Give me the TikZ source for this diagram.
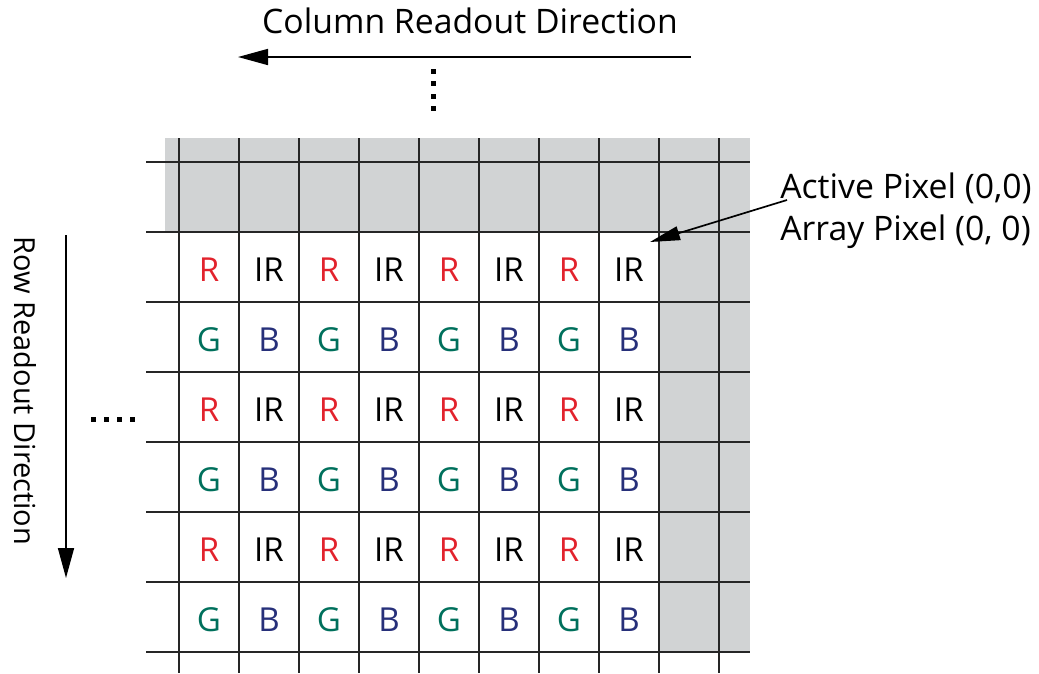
\documentclass[tikz,border=0pt]{standalone}
\usepackage{fontspec}
\setmainfont{Open Sans}
\usetikzlibrary{arrows.meta}
\definecolor{maskgray}{RGB}{209,211,212}
\definecolor{pixred}{RGB}{226,35,45}
\definecolor{pixgreen}{RGB}{0,112,92}
\definecolor{pixblue}{RGB}{39,48,122}
\begin{document}
\begin{tikzpicture}[x=0.025cm,y=-0.025cm,
    gridline/.style={line width=1.4pt,black!85},
    pix/.style={inner sep=0pt,font=\fontsize{23.5}{24}\selectfont},
    lbl/.style={inner sep=0pt,font=\fontsize{24}{26}\selectfont},
    readarrow/.style={line width=1.2pt,-{Triangle[length=0.75cm,width=0.4cm]}}]
  \useasboundingbox (0,0) rectangle (1039,673);
  %% masked border
  \fill[maskgray] (165,138) rectangle (750,232);
  \fill[maskgray] (659,232) rectangle (750,652);
  \foreach \x in {179,239,...,719}
    \draw[gridline] (\x,138) -- (\x,673);
  \foreach \y in {162,232,...,652}
    \draw[gridline] (146,\y) -- (750,\y);
  %% colour filter pattern
  \foreach \r in {0,2,4} {
    \foreach \c in {0,2,4,6} {
      \pgfmathtruncatemacro{\cc}{\c+1}
      \pgfmathtruncatemacro{\rr}{\r+1}
      \node[pix,text=pixred]   (px-\r-\c)   at ({209+60*\c},{270+70*\r})  {R};
      \node[pix]               (px-\r-\cc)  at ({209+60*\cc},{270+70*\r}) {IR};
      \node[pix,text=pixgreen] (px-\rr-\c)  at ({209+60*\c},{270+70*\rr}) {G};
      \node[pix,text=pixblue]  (px-\rr-\cc) at ({209+60*\cc},{270+70*\rr}) {B};
    }
  }
  %% readout directions
  \node[lbl,anchor=base] (coltitle) at (470,33) {Column Readout Direction};
  \coordinate (colstart) at (691,57);
  \coordinate (colend)   at (238,57);
  \draw[readarrow] (colstart) -- (colend);
  \node[lbl,anchor=base,rotate=-90,font=\fontsize{20.6}{24}\selectfont] (rowtitle) at (14,391) {Row Readout Direction};
  \coordinate (rowstart) at (66,235);
  \coordinate (rowend)   at (66,578);
  \draw[readarrow] (rowstart) -- (rowend);
  \foreach \y in {71,83.5,96,108.5}
    \fill (431,\y-2.5) rectangle ++(5,5);
  \foreach \x in {93,106,119,132}
    \fill (\x-2.5,416.5) rectangle ++(5,5);
  %% first pixel
  \node[lbl,anchor=base west] (active) at (780,198) {Active Pixel (0,0)};
  \node[lbl,anchor=base west] (array)  at (780,240) {Array Pixel (0, 0)};
  \coordinate (labelfoot) at (787,200);
  \coordinate (pxcorner)  at (650,242);
  \draw[readarrow,-{Triangle[length=0.75cm,width=0.35cm]}] (labelfoot) -- (pxcorner);
\end{tikzpicture}
\end{document}
